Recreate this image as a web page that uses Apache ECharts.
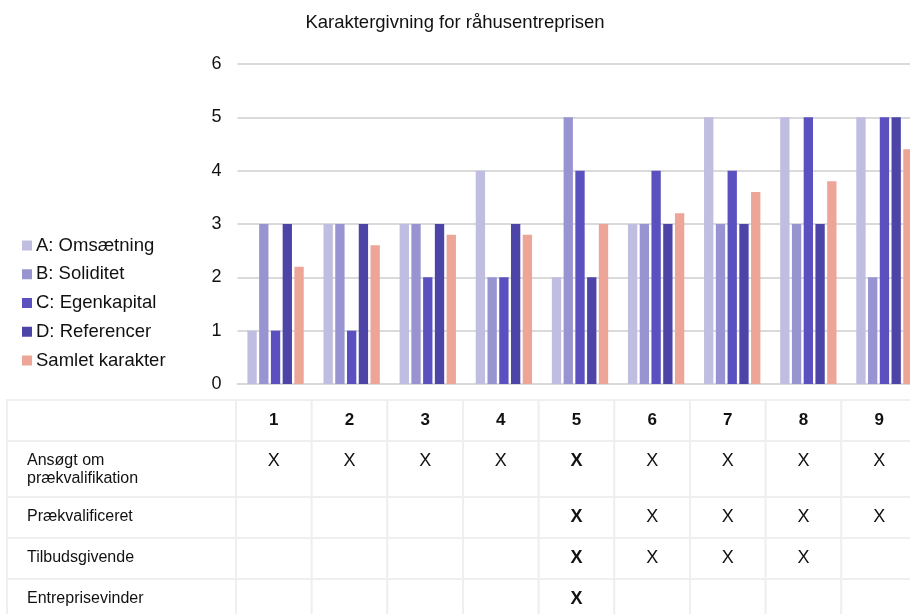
<!DOCTYPE html>
<html>
<head>
<meta charset="utf-8">
<title>Karaktergivning for råhusentreprisen</title>
<script src="https://cdn.jsdelivr.net/npm/echarts@6/dist/echarts.min.js"></script>
<style>
  html, body { margin: 0; padding: 0; background: #ffffff; }
  #chart { width: 910px; height: 614px; }
</style>
</head>
<body>
<div id="chart"></div>
<script>
// Bidders (one column per bidder)
const candidates = ['1', '2', '3', '4', '5', '6', '7', '8', '9'];

// Grades per criterion
const seriesNames = ['A: Omsætning', 'B: Soliditet', 'C: Egenkapital', 'D: Referencer', 'Samlet karakter'];
const omsaetning  = [1, 3, 3, 4, 2, 3, 5, 5, 5];
const soliditet   = [3, 3, 3, 2, 5, 3, 3, 3, 2];
const egenkapital = [1, 1, 2, 2, 4, 4, 4, 5, 5];
const referencer  = [3, 3, 3, 3, 2, 3, 3, 3, 5];
const samlet      = [2.2, 2.6, 2.8, 2.8, 3.0, 3.2, 3.6, 3.8, 4.4];

// Value axis ticks
const gradeTicks = [0, 1, 2, 3, 4, 5, 6];

// Tender stages (table rows) and which bidders reached each stage
const stageLabels = ['Ansøgt om\nprækvalifikation', 'Prækvalificeret', 'Tilbudsgivende', 'Entreprisevinder'];
const appliedMarks     = [1, 1, 1, 1, 1, 1, 1, 1, 1];
const prequalMarks     = [0, 0, 0, 0, 1, 1, 1, 1, 1];
const tenderMarks      = [0, 0, 0, 0, 1, 1, 1, 1, 0];
const winnerMarks      = [0, 0, 0, 0, 1, 0, 0, 0, 0];
const stageMarks = [appliedMarks, prequalMarks, tenderMarks, winnerMarks];
const winningBidder = '5';

const colors = ['#bfbde0', '#9894d1', '#5a50c0', '#4c45a7', '#eca597'];
const seriesData = [omsaetning, soliditet, egenkapital, referencer, samlet];

// Table layout (pixels inside the table grid)
const rowEdges = [0, 41, 97, 138, 179, 222];
const textOffset = 20;
const labelColumnLeft = 7;
const labelTextLeft = 27;
const borderColor = '#efefef';
const FONT = '"Liberation Sans", Arial, Helvetica, sans-serif';

const chart = echarts.init(document.getElementById('chart'), null, { renderer: 'canvas' });

function renderTableRow(params, api) {
  const row = api.value(0);
  const cs = params.coordSys;
  const band = api.size([1, 0])[0];
  const top = api.coord([0, rowEdges[row]])[1];
  const bottom = api.coord([0, rowEdges[row + 1]])[1];
  const h = bottom - top;
  const textY = top + textOffset;
  const children = [];

  // First column: stage label
  children.push({
    type: 'rect',
    shape: { x: labelColumnLeft, y: top, width: cs.x - labelColumnLeft, height: h },
    style: { fill: '#ffffff', stroke: borderColor, lineWidth: 2 }
  });
  if (row > 0) {
    const label = stageLabels[row - 1];
    const multi = label.indexOf('\n') >= 0;
    children.push({
      type: 'text',
      x: labelTextLeft,
      y: multi ? textY - 9 : textY,
      style: {
        text: label,
        fill: '#111111',
        font: '16px ' + FONT,
        align: 'left',
        verticalAlign: multi ? 'top' : 'middle',
        lineHeight: 18
      }
    });
  }

  // Bidder columns
  candidates.forEach(function (c, i) {
    const cx = api.coord([i, 0])[0];
    children.push({
      type: 'rect',
      shape: { x: cx - band / 2, y: top, width: band, height: h },
      style: { fill: '#ffffff', stroke: borderColor, lineWidth: 2 }
    });
    let text = '';
    let bold = false;
    let size = 18;
    if (row === 0) {
      text = c;
      bold = true;
      size = 17;
    } else if (stageMarks[row - 1][i]) {
      text = 'X';
      bold = c === winningBidder;
    }
    if (text) {
      children.push({
        type: 'text',
        x: cx,
        y: textY,
        style: {
          text: text,
          fill: '#111111',
          font: (bold ? 'bold ' : '') + size + 'px ' + FONT,
          align: 'center',
          verticalAlign: 'middle'
        }
      });
    }
  });

  return { type: 'group', children: children };
}

const barSeries = seriesNames.map(function (name, k) {
  return {
    name: name,
    type: 'bar',
    xAxisIndex: 0,
    yAxisIndex: 0,
    data: seriesData[k],
    barGap: '26%',
    barCategoryGap: '26%',
    itemStyle: { color: colors[k] },
    emphasis: { disabled: true }
  };
});

const option = {
  animation: false,
  backgroundColor: '#ffffff',
  textStyle: { fontFamily: FONT },
  title: {
    text: 'Karaktergivning for råhusentreprisen',
    left: 'center',
    top: 8,
    textStyle: { fontSize: 18.5, fontWeight: 'normal', color: '#111111', fontFamily: FONT }
  },
  legend: {
    orient: 'vertical',
    left: 17,
    top: 231,
    icon: 'rect',
    itemWidth: 10,
    itemHeight: 10,
    itemGap: 9.75,
    data: seriesNames,
    selectedMode: false,
    textStyle: { fontSize: 18.5, color: '#111111', fontFamily: FONT, padding: [0, 0, 0, -1] }
  },
  grid: [
    { left: 237.5, top: 64, width: 685, height: 320, outerBoundsMode: 'none' },
    { left: 236, top: 400, width: 681, height: 214, outerBoundsMode: 'none' }
  ],
  xAxis: [
    {
      type: 'category',
      gridIndex: 0,
      data: candidates,
      axisLine: { lineStyle: { color: '#d9d9d9', width: 2 } },
      axisTick: { show: false },
      axisLabel: { show: false }
    },
    {
      type: 'category',
      gridIndex: 1,
      data: candidates,
      show: false
    }
  ],
  yAxis: [
    {
      type: 'value',
      gridIndex: 0,
      min: gradeTicks[0],
      max: gradeTicks[gradeTicks.length - 1],
      interval: 1,
      axisLine: { show: false },
      axisTick: { show: false },
      axisLabel: { fontSize: 18, color: '#111111', margin: 16, fontFamily: FONT },
      splitLine: { lineStyle: { color: '#dadada', width: 2 } }
    },
    {
      type: 'value',
      gridIndex: 1,
      min: 0,
      max: 214,
      inverse: true,
      show: false
    }
  ],
  series: barSeries.concat([
    {
      type: 'custom',
      name: 'tabel',
      xAxisIndex: 1,
      yAxisIndex: 1,
      renderItem: renderTableRow,
      data: [[0], [1], [2], [3], [4]],
      encode: { y: 0 },
      clip: false,
      silent: true
    }
  ])
};

chart.setOption(option);
</script>
</body>
</html>
